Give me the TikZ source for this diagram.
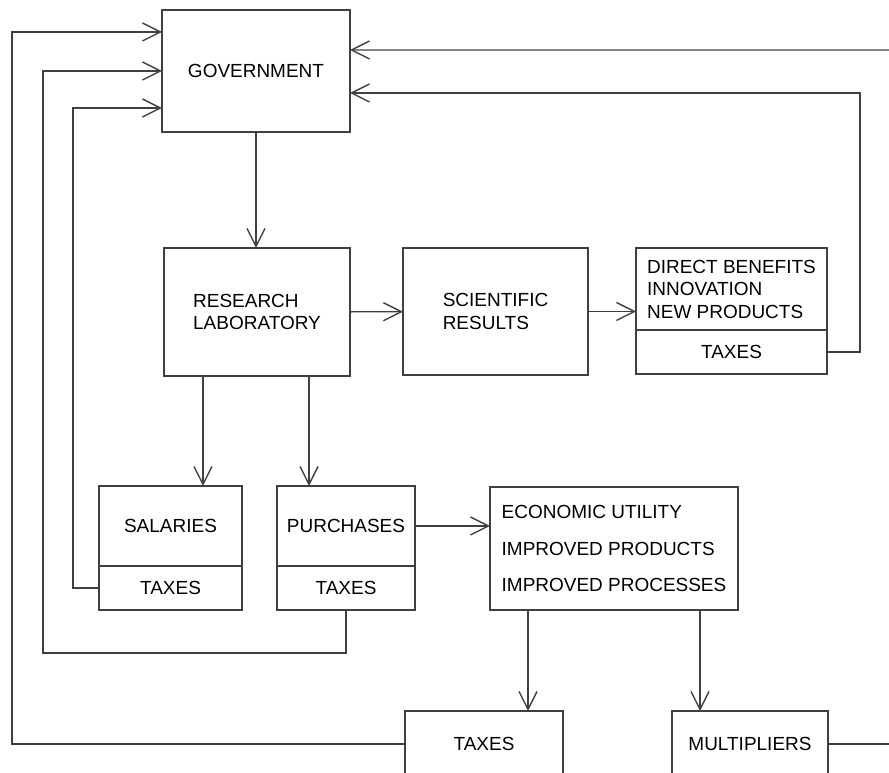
\documentclass[tikz,border=0pt]{standalone}
\usepackage{fontspec}
\setmainfont{Liberation Sans}
\usetikzlibrary{positioning,arrows.meta}

\begin{document}
\begin{tikzpicture}[x=0.25mm,y=-0.25mm,>={Straight Barb[length=4.5mm,width=4.5mm]},
         line width=1pt,draw=black!75,font=\fontsize{13.5}{16}\selectfont,
         box/.style={draw,inner sep=0pt,outer sep=0pt,align=left}]

     \useasboundingbox (0,0) rectangle (889,773);
     \clip (0,0) rectangle (889,773);

     \node[box,minimum width=47mm,minimum height=30.5mm] (gov) at (256,71) {GOVERNMENT};
     \node[box,minimum width=46.5mm,minimum height=32mm] (lab) at (257,312) {RESEARCH\\LABORATORY};
     \node[box,minimum width=46.25mm,minimum height=31.75mm] (sci) at (495.5,311.5) {SCIENTIFIC\\RESULTS};
     \node[box,minimum width=47.75mm,minimum height=20.5mm] (ben) at (731.5,289) {DIRECT BENEFITS\\INNOVATION\\NEW PRODUCTS};
     \node[box,minimum width=47.75mm,minimum height=11mm] (bentax) [below=0pt of ben] {TAXES};
     \node[box,minimum width=35.75mm,minimum height=20mm] (sal) at (170.5,526) {SALARIES};
     \node[box,minimum width=35.75mm,minimum height=11mm] (saltax) [below=0pt of sal] {TAXES};
     \node[box,minimum width=34.5mm,minimum height=20mm] (pur) at (346,526) {PURCHASES};
     \node[box,minimum width=34.5mm,minimum height=11mm] (purtax) [below=0pt of pur] {TAXES};
     \node[box,minimum width=62mm,minimum height=30.75mm] (eco) at (614,548.5) {ECONOMIC UTILITY\\[10pt]IMPROVED PRODUCTS\\[10pt]IMPROVED PROCESSES};
     \node[box,minimum width=39.5mm,minimum height=16.5mm] (tax) at (484,744) {TAXES};
     \node[box,minimum width=39mm,minimum height=16.5mm] (mul) at (750,744) {MULTIPLIERS};

     \coordinate (east top) at (889,50);
     \coordinate (east bottom) at (889,744);

     \draw[->] (gov.south) -- (gov.south |- lab.north);
     \draw[->] (lab) -- (sci);
     \draw[->] (sci) -- (sci -| ben.west);
     \draw[->] ([xshift=9.75mm]lab.south west) -- ([xshift=9.75mm]lab.south west |- sal.north);
     \draw[->] ([xshift=36.25mm]lab.south west) -- ([xshift=36.25mm]lab.south west |- pur.north);
     \draw[->] (pur.east) -- (pur.east -| eco.west);
     \draw[->] ([xshift=9.5mm]eco.south west) -- ([xshift=9.5mm]eco.south west |- tax.north);
     \draw[->] ([xshift=52.5mm]eco.south west) -- ([xshift=52.5mm]eco.south west |- mul.north);

     % taxes flowing back
     \draw[->] (tax.west) -- ++(-393,0) |- ([yshift=9.75mm]gov.west);
     \draw[->] (purtax.south) |- ++(-303,43) |- (gov.west);
     \draw[->] (saltax.west) -- ++(-26,0) |- ([yshift=-9.25mm]gov.west);
     \draw[->] (bentax.east) -- ++(33,0) |- ([yshift=-5.5mm]gov.east);
     \draw[->] (east top) -- ([yshift=5.25mm]gov.east);
     \draw (mul.east) -- (east bottom);
 \end{tikzpicture}
\end{document}
